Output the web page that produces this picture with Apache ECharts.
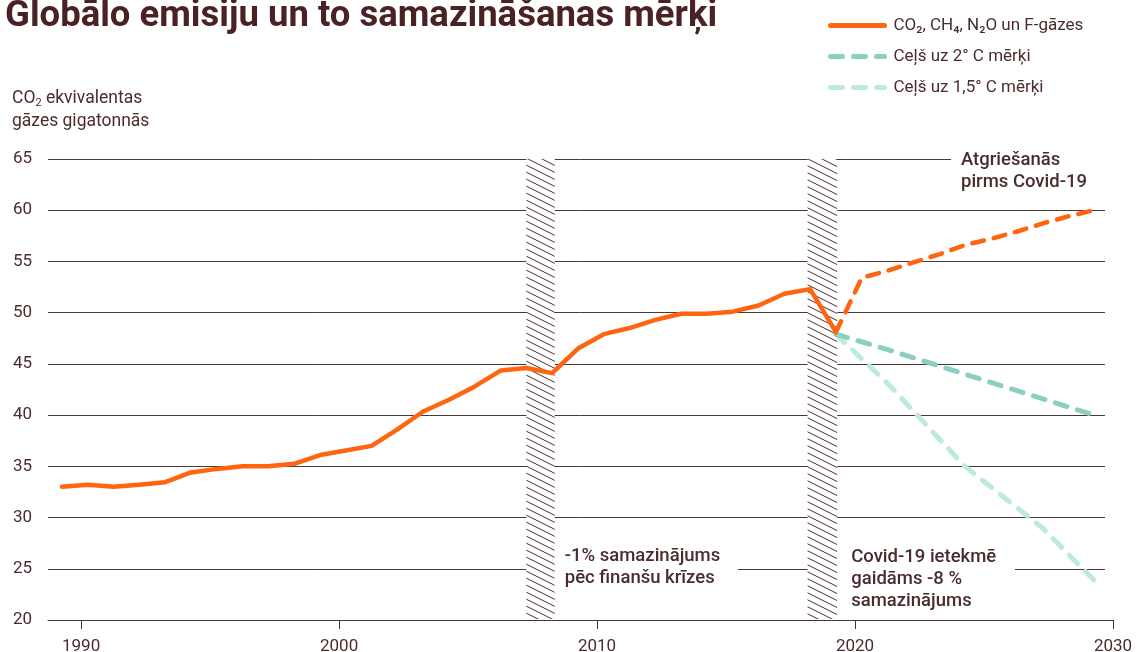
<!DOCTYPE html>
<html>
<head>
<meta charset="utf-8">
<script src="https://cdn.jsdelivr.net/npm/echarts@6/dist/echarts.min.js"></script>
<style>
  html, body { margin: 0; padding: 0; background: #fff; }
  #main { width: 1138px; height: 652px; }
</style>
</head>
<body>
<div id="main"></div>
<script>
// vēsturiskie dati (Gt CO2 ekv.)
var histYears = [1990, 1991, 1992, 1993, 1994, 1995, 1996, 1997, 1998, 1999,
                 2000, 2001, 2002, 2003, 2004, 2005, 2006, 2007, 2008, 2009,
                 2010, 2011, 2012, 2013, 2014, 2015, 2016, 2017, 2018, 2019, 2020];
var histValues = [33.0, 33.2, 33.0, 33.2, 33.45, 34.4, 34.75, 35.0, 35.0, 35.25,
                  36.1, 36.55, 37.0, 38.6, 40.35, 41.5, 42.8, 44.35, 44.6, 44.1,
                  46.5, 47.9, 48.5, 49.3, 49.9, 49.9, 50.1, 50.7, 51.85, 52.3, 48.1];

// atgriešanās pirms Covid-19 līmenī
var reboundYears = [2020, 2021, 2022, 2023, 2024, 2025, 2026, 2027, 2028, 2029, 2030];
var reboundValues = [48.1, 53.4, 54.1, 54.9, 55.7, 56.6, 57.2, 57.9, 58.7, 59.4, 60.0];

// ceļš uz 2° C
var path2Years = [2020, 2022, 2024, 2026, 2028, 2030];
var path2Values = [47.9, 46.4, 44.8, 43.2, 41.6, 40.0];

// ceļš uz 1,5° C
var path15Years = [2020, 2022, 2025, 2028, 2030];
var path15Values = [47.9, 43.1, 35.0, 29.0, 23.9];

var xTickYears = [1990, 2000, 2010, 2020, 2030];
var crisisBands = [[2008, 2009.1], [2018.9, 2020.05]];

var seriesNames = ['CO₂, CH₄, N₂O un F-gāzes', 'Ceļš uz 2° C mērķi', 'Ceļš uz 1,5° C mērķi'];
var notes = {
  top: 'Atgriešanās\npirms Covid-19',
  crisis: '-1% samazinājums\npēc finanšu krīzes',
  covid: 'Covid-19 ietekmē\ngaidāms -8 %\nsamazinājums'
};

function pairs(xs, ys) {
  return xs.map(function (x, i) { return [x, ys[i]]; });
}

var brown = '#4b2c2e';
var orange = '#ff6510';
var teal = '#8bcfc1';
var mint = '#bdebdb';

// svītrojums krīzes joslām
var tile = document.createElement('canvas');
tile.width = 14;
tile.height = 7;
var ctx = tile.getContext('2d');
ctx.fillStyle = '#fff';
ctx.fillRect(0, 0, 14, 7);
ctx.strokeStyle = '#4a2f31';
ctx.lineWidth = 1;
ctx.beginPath();
ctx.moveTo(-14, -7); ctx.lineTo(28, 14);
ctx.moveTo(-14, 0); ctx.lineTo(14, 14);
ctx.moveTo(0, -7); ctx.lineTo(28, 7);
ctx.stroke();
var hatch = { color: { image: tile, repeat: 'repeat' } };
var white = { color: '#fff' };

var xMin = 1989.457, xMax = 2030.74, labelShift = 0.74;

var noteLabel = {
  show: true,
  color: brown,
  fontFamily: 'Roboto',
  fontSize: 18.5,
  fontWeight: 500,
  lineHeight: 22,
  formatter: '{b}'
};

var areas = crisisBands.map(function (b) {
  return [{ xAxis: b[0], yAxis: 20.1, itemStyle: hatch }, { xAxis: b[1], yAxis: 65.1 }];
});
areas.push([{ xAxis: 2030.43, yAxis: 20.3, itemStyle: white }, { xAxis: xMax, yAxis: 65.2 }]);
areas.push([{ name: notes.top, xAxis: 2024.46, yAxis: 66, itemStyle: white,
              label: Object.assign({}, noteLabel, { position: [10, -10] }) },
            { xAxis: xMax, yAxis: 63.5 }]);
areas.push([{ name: notes.crisis, xAxis: 2009.1, yAxis: 28.1, itemStyle: white,
              label: Object.assign({}, noteLabel, { position: 'insideLeft', distance: 10 }) },
            { xAxis: 2016.2, yAxis: 22.1 }]);
areas.push([{ name: notes.covid, xAxis: 2020.05, yAxis: 27.5, itemStyle: white,
              label: Object.assign({}, noteLabel, { position: 'insideLeft', distance: 14 }) },
            { xAxis: 2026.94, yAxis: 20.5 }]);

var chart = echarts.init(document.getElementById('main'));
var option = {
  animation: false,
  backgroundColor: '#fff',
  textStyle: { fontFamily: 'Roboto' },
  title: {
    text: 'Globālo emisiju un to samazināšanas mērķi',
    left: 5,
    top: -2,
    padding: 0,
    textStyle: { color: '#4a2226', fontSize: 36.5, fontWeight: 'bold', fontFamily: 'Roboto' }
  },
  legend: {
    orient: 'vertical',
    left: 823,
    top: 12,
    itemWidth: 54,
    itemHeight: 14,
    itemGap: 14,
    data: seriesNames,
    lineStyle: { width: 5, cap: 'round' },
    itemStyle: { color: 'transparent', borderColor: 'transparent', borderWidth: 0 },
    textStyle: { color: brown, fontSize: 17, padding: [0, 0, 0, 4] }
  },
  graphic: [{
    type: 'text',
    left: 12,
    top: 89,
    style: {
      text: '{a|CO}{s|2}{a| ekvivalentas}\n{a|gāzes gigatonnās}',
      rich: {
        a: { fontSize: 17.5, fill: brown, fontFamily: 'Roboto', lineHeight: 23 },
        s: { fontSize: 11, fill: brown, fontFamily: 'Roboto', padding: [9, 0, 0, 0], lineHeight: 23 }
      }
    }
  }],
  grid: { left: 48, right: 25, top: 159, bottom: 32, containLabel: false, outerBoundsMode: 'none' },
  xAxis: [{
    type: 'value',
    min: xMin,
    max: xMax,
    position: 'bottom',
    show: false
  }, {
    type: 'value',
    min: xMin - labelShift,
    max: xMax - labelShift,
    position: 'bottom',
    axisLine: { show: true, lineStyle: { color: '#4a3234', width: 1 } },
    axisTick: { show: true, length: 9, customValues: xTickYears, lineStyle: { color: '#4a3234' } },
    axisLabel: {
      customValues: xTickYears,
      color: brown,
      fontSize: 17,
      margin: 18,
      formatter: function (v) { return String(v); }
    },
    splitLine: { show: false }
  }],
  yAxis: {
    type: 'value',
    min: 20,
    max: 65,
    interval: 5,
    axisLine: { show: false },
    axisTick: { show: false },
    axisLabel: { color: brown, fontSize: 17, margin: 16 },
    splitLine: { lineStyle: { color: '#4d3638', width: 1 } }
  },
  series: [{
    name: seriesNames[2],
    type: 'line',
    symbol: 'none',
    data: pairs(path15Years, path15Values),
    lineStyle: { color: mint, width: 5, type: [12, 11], cap: 'round' },
    itemStyle: { color: mint }
  }, {
    name: seriesNames[1],
    type: 'line',
    symbol: 'none',
    data: pairs(path2Years, path2Values),
    lineStyle: { color: teal, width: 5, type: [12, 11], cap: 'round' },
    itemStyle: { color: teal }
  }, {
    name: 'Atgriešanās',
    type: 'line',
    symbol: 'none',
    data: pairs(reboundYears, reboundValues),
    lineStyle: { color: orange, width: 4.5, type: [12, 10], cap: 'round' },
    itemStyle: { color: orange }
  }, {
    name: seriesNames[0],
    type: 'line',
    symbol: 'none',
    clip: false,
    data: pairs(histYears, histValues),
    lineStyle: { color: orange, width: 4.5, cap: 'round', join: 'round' },
    itemStyle: { color: orange },
    markArea: { silent: true, data: areas }
  }]
};
chart.setOption(option);
</script>
</body>
</html>
